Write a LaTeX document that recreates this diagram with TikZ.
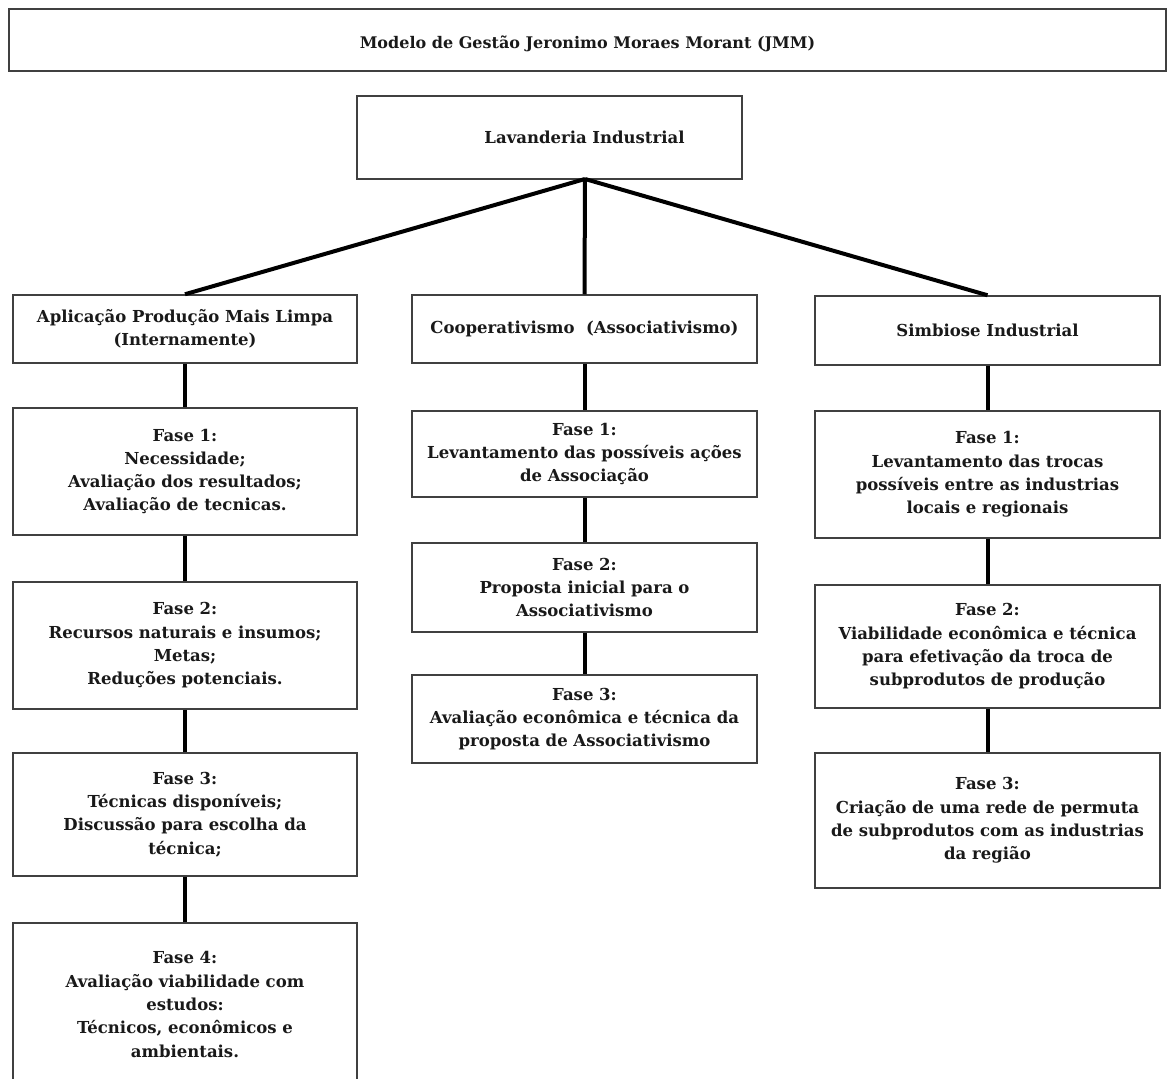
\documentclass[tikz,border=0pt]{standalone}
\usepackage{fontspec}
\setmainfont{DejaVu Serif}
\newcommand{\panelfont}{\fontsize{16.5}{23.3}\selectfont\bfseries}
\tikzset{
  panel/.style={draw=black!75, line width=1.5pt, fill=white, align=center,
    inner sep=0pt, font=\panelfont, text=black!90},
  link/.style={draw=black, line width=4pt},
}
\begin{document}
\begin{tikzpicture}[x=1pt, y=-1pt]
  \useasboundingbox (0,0) rectangle (1168,1079);
  \clip (0,0) rectangle (1168,1079);
  \fill[white] (0,0) rectangle (1168,1079);

  % header and root
  \node[panel, minimum width=1157pt, minimum height=62pt,
        font=\fontsize{16}{22}\selectfont\bfseries] (title) at (587.5,40)
    {\raisebox{-4pt}[12pt][4pt]{Modelo de Gestão Jeronimo Moraes Morant (JMM)}};
  \node[panel, minimum width=385pt, minimum height=83pt] (lav) at (549.5,137.5)
    {\hspace*{70pt}Lavanderia Industrial};
  \coordinate (apex) at (585,179);

  % left branch: cleaner production
  \node[panel, minimum width=344pt, minimum height=68pt] (pml) at (185,329)
    {Aplicação Produção Mais Limpa\\(Internamente)};
  \node[panel, minimum width=344pt, minimum height=127pt] (pml1) at (185,471.5)
    {Fase 1:\\Necessidade;\\Avaliação dos resultados;\\Avaliação de tecnicas.};
  \node[panel, minimum width=344pt, minimum height=127pt] (pml2) at (185,645.5)
    {Fase 2:\\Recursos naturais e insumos;\\Metas;\\Reduções potenciais.};
  \node[panel, minimum width=344pt, minimum height=123pt] (pml3) at (185,814.5)
    {Fase 3:\\Técnicas disponíveis;\\Discussão para escolha da\\técnica;};
  \node[panel, minimum width=344pt, minimum height=163pt] (pml4) at (185,1004.5)
    {Fase 4:\\Avaliação viabilidade com\\estudos:\\Técnicos, econômicos e\\ambientais.};

  % middle branch: cooperativism
  \node[panel, minimum width=345pt, minimum height=68pt] (coop) at (584.5,329)
    {Cooperativismo\ \ (Associativismo)};
  \node[panel, minimum width=345pt, minimum height=86pt] (coop1) at (584.5,454)
    {Fase 1:\\Levantamento das possíveis ações\\de Associação};
  \node[panel, minimum width=345pt, minimum height=89pt] (coop2) at (584.5,587.5)
    {Fase 2:\\Proposta inicial para o\\Associativismo};
  \node[panel, minimum width=345pt, minimum height=88pt] (coop3) at (584.5,719)
    {Fase 3:\\Avaliação econômica e técnica da\\proposta de Associativismo};

  % right branch: industrial symbiosis
  \node[panel, minimum width=345pt, minimum height=69pt] (simb) at (987.5,330.5)
    {Simbiose Industrial};
  \node[panel, minimum width=345pt, minimum height=127pt] (simb1) at (987.5,474.5)
    {Fase 1:\\Levantamento das trocas\\possíveis entre as industrias\\locais e regionais};
  \node[panel, minimum width=345pt, minimum height=123pt] (simb2) at (987.5,646.5)
    {Fase 2:\\Viabilidade econômica e técnica\\para efetivação da troca de\\subprodutos de produção};
  \node[panel, minimum width=345pt, minimum height=135pt] (simb3) at (987.5,820.5)
    {Fase 3:\\Criação de uma rede de permuta\\de subprodutos com as industrias\\da região};

  % connectors
  \draw[link] (apex) -- (pml.north);
  \draw[link] (apex) -- (coop.north);
  \draw[link] (apex) -- (simb.north);
  \draw[link] (pml.south) -- (pml1.north);
  \draw[link] (pml1.south) -- (pml2.north);
  \draw[link] (pml2.south) -- (pml3.north);
  \draw[link] (pml3.south) -- (pml4.north);
  \draw[link] (coop.south) -- (coop1.north);
  \draw[link] (coop1.south) -- (coop2.north);
  \draw[link] (coop2.south) -- (coop3.north);
  \draw[link] (simb.south) -- (simb1.north);
  \draw[link] (simb1.south) -- (simb2.north);
  \draw[link] (simb2.south) -- (simb3.north);
\end{tikzpicture}
\end{document}
